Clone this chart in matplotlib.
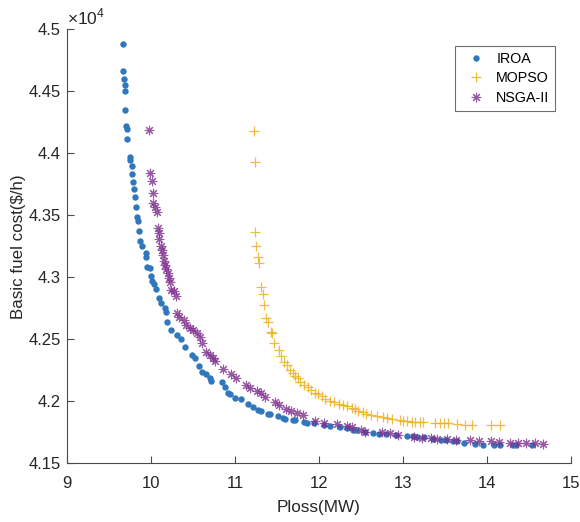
#!/usr/bin/env python3
"""Pareto fronts (fuel cost vs. power loss) for IROA, MOPSO and NSGA-II."""
import matplotlib

matplotlib.use("Agg")
import matplotlib.pyplot as plt
from matplotlib.ticker import FuncFormatter

plt.rcParams["font.family"] = ["Liberation Sans", "DejaVu Sans"]
plt.rcParams["mathtext.fontset"] = "custom"
plt.rcParams["mathtext.rm"] = "Liberation Sans"

# --- data (Ploss in MW, cost in $/h) ---
iroa_ploss = [
    9.670, 9.670, 9.682, 9.686, 9.689, 9.694, 9.706, 9.710, 9.718, 9.749,
    9.754, 9.769, 9.773, 9.785, 9.793, 9.809, 9.817, 9.832, 9.841, 9.861,
    9.868, 9.888, 9.936, 9.945, 9.956, 9.987, 9.996, 10.016, 10.032, 10.055,
    10.091, 10.119, 10.163, 10.175, 10.195, 10.243, 10.309, 10.354, 10.401, 10.488,
    10.521, 10.568, 10.612, 10.660, 10.699, 10.711, 10.843, 10.878, 10.918, 10.938,
    11.001, 11.073, 11.161, 11.216, 11.280, 11.311, 11.400, 11.423, 11.510, 11.574,
    11.598, 11.693, 11.717, 11.821, 11.860, 11.948, 12.059, 12.131, 12.250, 12.337,
    12.401, 12.441, 12.552, 12.647, 12.719, 12.798, 12.918, 13.045, 13.117, 13.172,
    13.252, 13.355, 13.451, 13.514, 13.601, 13.649, 13.729, 13.864, 13.959, 14.087,
    14.158, 14.309, 14.349, 14.540,
]
iroa_cost = [
    44879, 44661, 44602, 44548, 44502, 44349, 44220, 44194, 44118, 43968,
    43946, 43898, 43835, 43771, 43710, 43645, 43569, 43489, 43456, 43376,
    43295, 43252, 43193, 43166, 43080, 43072, 43010, 42972, 42946, 42908,
    42835, 42790, 42755, 42722, 42642, 42575, 42535, 42500, 42440, 42373,
    42347, 42285, 42239, 42220, 42185, 42166, 42158, 42118, 42064, 42059,
    42026, 42018, 41976, 41951, 41930, 41922, 41900, 41895, 41881, 41863,
    41857, 41849, 41847, 41833, 41825, 41823, 41809, 41798, 41789, 41785,
    41768, 41766, 41755, 41742, 41740, 41734, 41728, 41720, 41722, 41712,
    41710, 41696, 41688, 41684, 41677, 41676, 41666, 41655, 41650, 41647,
    41646, 41645, 41645, 41645,
]

mopso_ploss = [
    11.228, 11.236, 11.236, 11.246, 11.276, 11.290, 11.316, 11.332, 11.349, 11.371,
    11.400, 11.435, 11.437, 11.469, 11.522, 11.555, 11.582, 11.618, 11.654, 11.689,
    11.719, 11.753, 11.779, 11.826, 11.874, 11.912, 11.952, 11.993, 12.035, 12.077,
    12.131, 12.178, 12.238, 12.292, 12.333, 12.389, 12.429, 12.470, 12.530, 12.560,
    12.620, 12.691, 12.769, 12.816, 12.866, 12.965, 13.005, 13.055, 13.105, 13.144,
    13.204, 13.243, 13.383, 13.442, 13.490, 13.541, 13.642, 13.741, 13.821, 14.051,
    14.158,
]
mopso_cost = [
    44180, 43926, 43368, 43252, 43164, 43115, 42924, 42865, 42777, 42669,
    42642, 42561, 42548, 42468, 42410, 42365, 42319, 42289, 42252, 42226,
    42200, 42185, 42158, 42135, 42118, 42091, 42067, 42055, 42039, 42022,
    42002, 41994, 41978, 41970, 41958, 41942, 41934, 41924, 41910, 41901,
    41889, 41885, 41876, 41863, 41857, 41849, 41843, 41841, 41835, 41833,
    41830, 41833, 41822, 41822, 41822, 41821, 41813, 41811, 41809, 41806,
    41805,
]

nsga_ploss = [
    9.978, 9.984, 10.008, 10.020, 10.028, 10.044, 10.067, 10.083, 10.091, 10.097,
    10.115, 10.127, 10.143, 10.159, 10.171, 10.183, 10.199, 10.214, 10.228, 10.240,
    10.270, 10.298, 10.306, 10.336, 10.389, 10.422, 10.469, 10.500, 10.548, 10.580,
    10.604, 10.652, 10.699, 10.739, 10.765, 10.860, 10.950, 11.018, 11.137, 11.177,
    11.266, 11.316, 11.355, 11.475, 11.528, 11.614, 11.674, 11.741, 11.812, 11.958,
    12.059, 12.220, 12.330, 12.399, 12.506, 12.554, 12.754, 12.846, 12.945, 13.138,
    13.234, 13.332, 13.413, 13.532, 13.637, 13.806, 13.908, 14.048, 14.146, 14.274,
    14.376, 14.462, 14.575, 14.671,
]
nsga_cost = [
    44184, 43837, 43773, 43682, 43597, 43569, 43529, 43401, 43355, 43305,
    43256, 43220, 43180, 43134, 43095, 43064, 43035, 42992, 42962, 42897,
    42892, 42853, 42710, 42676, 42656, 42615, 42589, 42571, 42548, 42518,
    42472, 42401, 42373, 42347, 42321, 42262, 42216, 42185, 42131, 42105,
    42080, 42063, 42032, 41994, 41966, 41938, 41918, 41903, 41893, 41841,
    41822, 41818, 41802, 41793, 41768, 41755, 41753, 41747, 41728, 41714,
    41701, 41700, 41696, 41694, 41689, 41688, 41680, 41676, 41669, 41666,
    41664, 41666, 41661, 41655,
]

x_ticks = [9, 10, 11, 12, 13, 14, 15]
y_ticks = [41500, 42000, 42500, 43000, 43500, 44000, 44500, 45000]

AXIS_GREY = "#4a4a4a"
TEXT_GREY = "#262626"


def main() -> None:
    fig = plt.figure(figsize=(5.8, 5.22), dpi=100)
    ax = fig.add_axes([0.1155, 0.1125, 0.8685, 0.8314])

    ax.plot(iroa_ploss, iroa_cost, linestyle="none", marker="o", markersize=4.6,
            color="#3078bb", markeredgewidth=0, label="IROA")
    ax.plot(mopso_ploss, mopso_cost, linestyle="none", marker="+", markersize=7.5,
            color="#EDB120", markeredgewidth=0.9, alpha=0.85, label="MOPSO")
    ax.plot(nsga_ploss, nsga_cost, linestyle="none", marker=(8, 2, 0), markersize=6.8,
            color="#7E2F8E", markeredgewidth=0.8, alpha=0.8, label="NSGA-II")

    ax.set_xlim(9, 15)
    ax.set_ylim(41500, 45000)
    ax.set_xticks(x_ticks)
    ax.set_yticks(y_ticks)
    ax.yaxis.set_major_formatter(FuncFormatter(lambda v, _p: f"{v / 1e4:g}"))

    for side in ("top", "right"):
        ax.spines[side].set_visible(False)
    for side in ("left", "bottom"):
        ax.spines[side].set_color(AXIS_GREY)
        ax.spines[side].set_linewidth(0.8)
    ax.tick_params(direction="in", length=5, width=0.8, color=AXIS_GREY,
                   labelcolor=TEXT_GREY, labelsize=12)
    ax.tick_params(axis="x", pad=9.5)
    ax.tick_params(axis="y", pad=4.5)

    ax.set_xlabel("Ploss(MW)", fontsize=12.3, color=TEXT_GREY, labelpad=6)
    ax.set_ylabel("Basic fuel cost($/h)", fontsize=12.2, color=TEXT_GREY, labelpad=1.5)
    ax.text(0.0, 1.005, r"$\times10^{4}$", transform=ax.transAxes, ha="left",
            va="bottom", fontsize=12.5, color=TEXT_GREY)

    leg = ax.legend(loc="upper right", bbox_to_anchor=(0.969, 0.9615), borderaxespad=0,
                    fontsize=10.3, frameon=True, fancybox=False, borderpad=0.4,
                    handletextpad=0.3, labelspacing=0.4, handlelength=2.2)
    leg.get_frame().set_edgecolor(AXIS_GREY)
    leg.get_frame().set_linewidth(0.8)

    fig.savefig("out.png", dpi=100)
    plt.close(fig)


if __name__ == "__main__":
    main()
